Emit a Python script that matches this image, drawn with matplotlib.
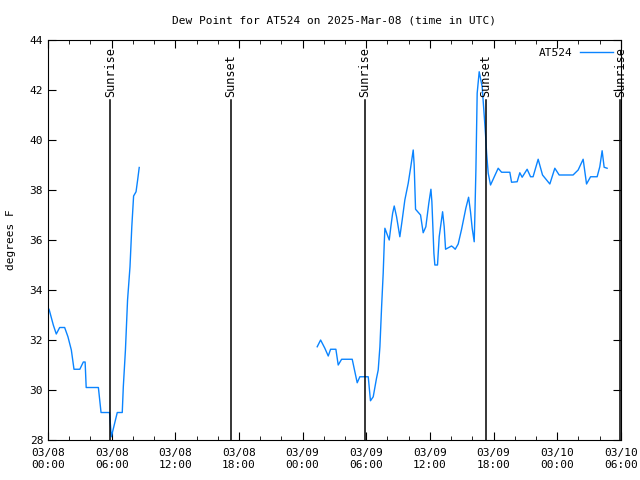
import matplotlib
matplotlib.use("Agg")
import matplotlib.pyplot as plt
import numpy as np

# hours after 03/08 00:00 UTC, dew point in F (nan = no data)
hours = [0.0, 0.12, 0.5, 0.78, 1.1, 1.57, 1.88, 2.2, 2.45, 3.0, 3.33, 3.5, 3.6,
         4.75, 5.0, 5.8, 5.97, 6.1, 6.53, 7.0, 7.1, 7.3, 7.5, 7.73, 7.9, 8.07,
         8.3, 8.45, 8.6,
         17.0,
         25.38, 25.7, 26.1, 26.42, 26.64, 27.14, 27.36, 27.68, 28.68, 28.93,
         29.15, 29.4, 30.19, 30.4, 30.66, 30.97, 31.13, 31.29, 31.45, 31.6,
         31.7, 31.76, 32.17, 32.33, 32.49, 32.64, 32.86, 33.17, 33.39, 33.64,
         33.96, 34.2, 34.43, 34.52, 34.65, 35.12, 35.37, 35.62, 35.9, 36.1,
         36.19, 36.38, 36.47, 36.72, 36.88, 37.2, 37.35, 37.48, 38.04, 38.2,
         38.39, 38.67, 38.99, 39.39, 39.65, 39.83, 39.99, 40.18, 40.24, 40.34,
         40.46, 40.65, 40.93, 41.12, 41.25, 41.35, 41.5, 41.72, 42.44, 42.76,
         43.54, 43.7, 44.23, 44.48, 44.7, 45.17, 45.49, 45.73, 46.21, 46.62,
         47.31, 47.78, 48.19, 49.5, 49.98, 50.45, 50.77, 51.15, 51.77, 52.02,
         52.24, 52.43, 52.71]
dewpt = [33.3, 33.2, 32.6, 32.24, 32.5, 32.5, 32.13, 31.6, 30.83, 30.83, 31.12,
         31.12, 30.1, 30.1, 29.1, 29.1, 28.13, 28.35, 29.1, 29.1, 30.13, 31.6,
         33.6, 34.93, 36.53, 37.76, 37.93, 38.4, 38.9,
         np.nan,
         31.73, 32.0, 31.67, 31.36, 31.63, 31.63, 31.0, 31.23, 31.23, 30.73,
         30.29, 30.53, 30.53, 29.57, 29.73, 30.47, 30.8, 31.73, 33.33, 34.67,
         35.87, 36.47, 36.0, 36.56, 37.07, 37.36, 36.93, 36.13, 36.8, 37.6,
         38.27, 38.93, 39.6, 39.0, 37.23, 37.0, 36.29, 36.53, 37.47, 38.03,
         37.53, 35.47, 35.0, 35.0, 36.13, 37.13, 36.53, 35.63, 35.76, 35.71,
         35.63, 35.84, 36.43, 37.27, 37.71, 37.13, 36.47, 35.93, 36.93, 38.8,
         41.87, 42.73, 42.13, 41.0, 40.2, 39.47, 38.67, 38.2, 38.87, 38.71,
         38.71, 38.31, 38.33, 38.69, 38.51, 38.83, 38.53, 38.53, 39.23, 38.6,
         38.24, 38.87, 38.6, 38.6, 38.8, 39.23, 38.24, 38.53, 38.53, 38.93,
         39.57, 38.91, 38.87]

sun_hours = [5.87, 17.25, 29.87, 41.3, 53.95]
sun_labels = ["Sunrise", "Sunset", "Sunrise", "Sunset", "Sunrise"]

tick_hours = [0, 6, 12, 18, 24, 30, 36, 42, 48, 54]
tick_labels = ["03/08\n00:00", "03/08\n06:00", "03/08\n12:00", "03/08\n18:00",
               "03/09\n00:00", "03/09\n06:00", "03/09\n12:00", "03/09\n18:00",
               "03/10\n00:00", "03/10\n06:00"]

plt.rcParams['font.family'] = 'DejaVu Sans Mono'
plt.rcParams['font.size'] = 8

fig = plt.figure(figsize=(6.4, 4.8), dpi=100)
ax = fig.add_axes([0.075, 0.0833, 0.895, 0.8334])

ax.plot(hours, dewpt, color='#0a84ff', lw=1.0, label='AT524')

for h, lab in zip(sun_hours, sun_labels):
    ax.plot([h, h], [28, 41.6], color='black', lw=1.1, clip_on=False)
    ax.text(h, 41.7, lab, rotation=90, ha='center', va='bottom', fontsize=8.5)

ax.set_xlim(0, 54)
ax.set_ylim(28, 44)
ax.set_xticks(tick_hours)
ax.set_xticklabels(tick_labels)
ax.set_xticks(np.arange(0, 55, 2), minor=True)
ax.set_yticks(np.arange(28, 45, 2))
ax.tick_params(which='both', direction='in', top=True, right=True)
ax.tick_params(which='major', length=6)
ax.tick_params(which='minor', length=3)
ax.tick_params(axis='x', pad=6)
ax.set_ylabel('degrees F', labelpad=10)
ax.set_title('Dew Point for AT524 on 2025-Mar-08 (time in UTC)', fontsize=8, pad=12)
ax.legend(loc='upper right', frameon=False, markerfirst=False,
          handlelength=3.0, borderaxespad=0.3, handletextpad=0.6)

plt.savefig('out.png', dpi=100)
